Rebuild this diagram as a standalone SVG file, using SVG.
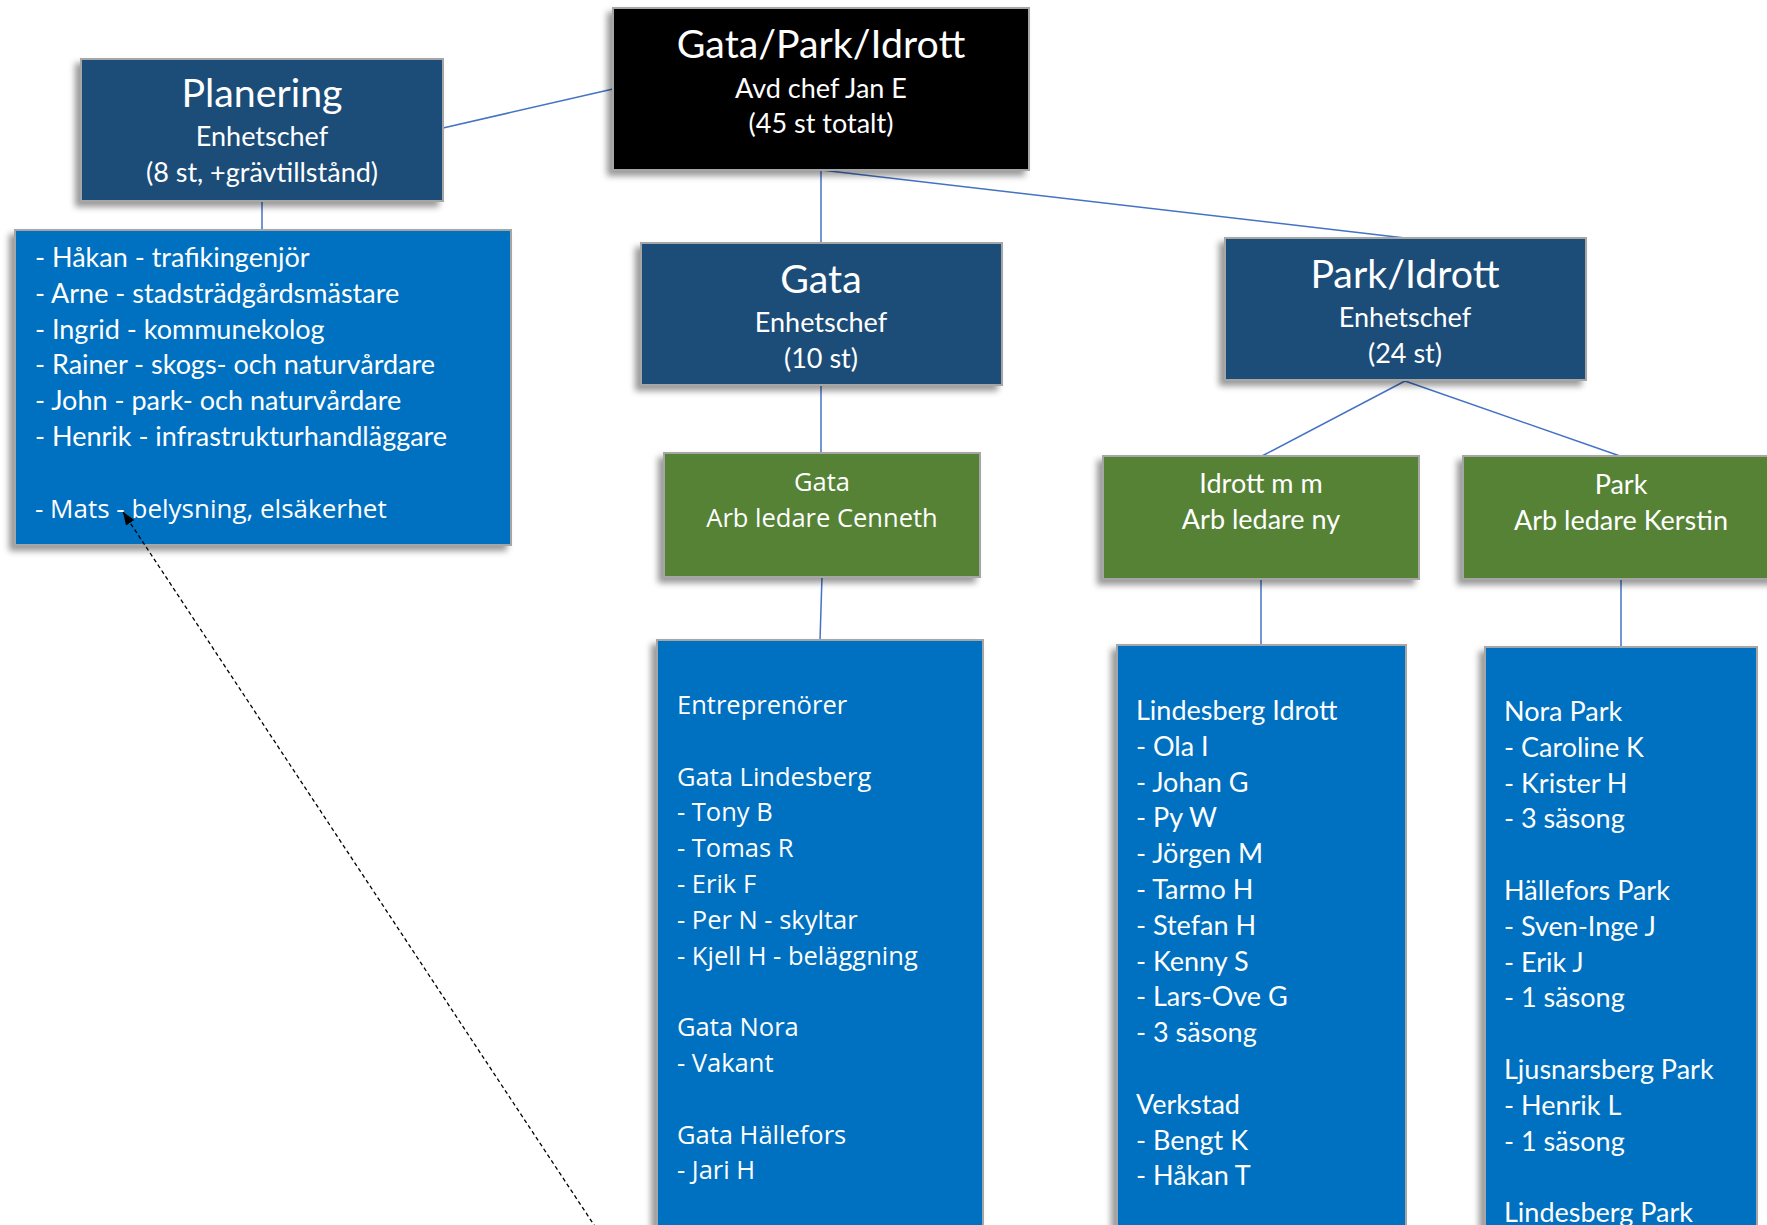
<svg xmlns="http://www.w3.org/2000/svg" width="1767" height="1225" viewBox="0 0 1767 1225">
<defs>
<filter id="sh" x="-10%" y="-10%" width="120%" height="120%">
<feDropShadow dx="-5" dy="5" stdDeviation="3" flood-color="#000" flood-opacity="0.4"/>
</filter>
<marker id="arr" markerWidth="13" markerHeight="10" refX="13" refY="5" orient="auto" markerUnits="userSpaceOnUse">
<path d="M0,0 L13,5 L0,10 z" fill="#000"/>
</marker>
</defs>
<style>
.box{stroke:#A6A6A6;stroke-width:2;filter:url(#sh)}
.blk{fill:#000}
.navy{fill:#1F4E79}
.grn{fill:#548235}
.lst{fill:#0070C0}
text{fill:#fff}
.c{font-family:Lato,'Liberation Sans',sans-serif;font-size:27px}
.s{font-family:'Open Sans','Liberation Sans',sans-serif;font-size:25.5px}
.t{font-family:Lato,'Liberation Sans',sans-serif;font-size:39.3px}
.m{text-anchor:middle}
.con line{stroke:#4472C4;stroke-width:1.5}
</style>

<g id="connectors" class="con">
<line x1="613" y1="89" x2="443" y2="128"/>
<line x1="262" y1="201" x2="262" y2="230"/>
<line x1="821" y1="170" x2="821" y2="243"/>
<line x1="821" y1="170" x2="1405" y2="238"/>
<line x1="821" y1="385" x2="821" y2="453"/>
<line x1="822" y1="577" x2="820" y2="640"/>
<line x1="1405" y1="381" x2="1262" y2="456"/>
<line x1="1405" y1="381" x2="1620" y2="456"/>
<line x1="1261" y1="579" x2="1261" y2="645"/>
<line x1="1621" y1="579" x2="1621" y2="647"/>
</g>

<g id="node-gpi">
<rect class="box blk" x="613" y="8" width="416" height="162"/>
<text class="t m" x="821" y="58">Gata/Park/Idrott</text>
<text class="c m" x="821" y="98">Avd chef Jan E</text>
<text class="c m" x="821" y="133">(45 st totalt)</text>
</g>

<g id="node-planering">
<rect class="box navy" x="81" y="59" width="362" height="142"/>
<text class="t m" x="262" y="107">Planering</text>
<text class="c m" x="262" y="146">Enhetschef</text>
<text class="c m" x="262" y="182">(8 st, +grävtillstånd)</text>
</g>

<g id="node-planering-list">
<rect class="box lst" x="15" y="230" width="496" height="315"/>
<text class="c" x="35" y="267">- Håkan - trafikingenjör<tspan x="35" dy="35.8">- Arne - stadsträdgårdsmästare</tspan><tspan x="35" dy="35.8">- Ingrid - kommunekolog</tspan><tspan x="35" dy="35.8">- Rainer - skogs- och naturvårdare</tspan><tspan x="35" dy="35.8">- John - park- och naturvårdare</tspan><tspan x="35" dy="35.8">- Henrik - infrastrukturhandläggare</tspan></text>
<text class="s" x="35" y="518" style="font-size:26px">- Mats - belysning, elsäkerhet</text>
</g>

<g id="node-gata">
<rect class="box navy" x="641" y="243" width="361" height="142"/>
<text class="t m" x="821" y="293">Gata</text>
<text class="c m" x="821" y="332">Enhetschef</text>
<text class="c m" x="821" y="368">(10 st)</text>
</g>

<g id="node-parkidrott">
<rect class="box navy" x="1225" y="238" width="361" height="142"/>
<text class="t m" x="1405" y="288">Park/Idrott</text>
<text class="c m" x="1405" y="327">Enhetschef</text>
<text class="c m" x="1405" y="363">(24 st)</text>
</g>

<g id="node-gata-arb">
<rect class="box grn" x="664" y="453" width="316" height="124"/>
<text class="s m" x="822" y="491">Gata</text>
<text class="s m" x="822" y="527">Arb ledare Cenneth</text>
</g>

<g id="node-idrott-arb">
<rect class="box grn" x="1103" y="456" width="316" height="123"/>
<text class="c m" x="1261" y="493">Idrott m m</text>
<text class="c m" x="1261" y="529">Arb ledare ny</text>
</g>

<g id="node-park-arb">
<rect class="box grn" x="1463" y="456" width="316" height="123"/>
<text class="c m" x="1621" y="494">Park</text>
<text class="c m" x="1621" y="530">Arb ledare Kerstin</text>
</g>

<g id="node-gata-list">
<rect class="box lst" x="657" y="640" width="326" height="600"/>
<text class="s" x="677" y="714">Entreprenörer<tspan x="677" dy="71.6">Gata Lindesberg</tspan><tspan x="677" dy="35.8">- Tony B</tspan><tspan x="677" dy="35.8">- Tomas R</tspan><tspan x="677" dy="35.8">- Erik F</tspan><tspan x="677" dy="35.8">- Per N - skyltar</tspan><tspan x="677" dy="35.8">- Kjell H - beläggning</tspan><tspan x="677" dy="71.6">Gata Nora</tspan><tspan x="677" dy="35.8">- Vakant</tspan><tspan x="677" dy="71.6">Gata Hällefors</tspan><tspan x="677" dy="35.8">- Jari H</tspan></text>
</g>

<g id="node-idrott-list">
<rect class="box lst" x="1117" y="645" width="289" height="600"/>
<text class="c" x="1136" y="720">Lindesberg Idrott<tspan x="1136" dy="35.8">- Ola I</tspan><tspan x="1136" dy="35.8">- Johan G</tspan><tspan x="1136" dy="35.8">- Py W</tspan><tspan x="1136" dy="35.8">- Jörgen M</tspan><tspan x="1136" dy="35.8">- Tarmo H</tspan><tspan x="1136" dy="35.8">- Stefan H</tspan><tspan x="1136" dy="35.8">- Kenny S</tspan><tspan x="1136" dy="35.8">- Lars-Ove G</tspan><tspan x="1136" dy="35.8">- 3 säsong</tspan><tspan x="1136" dy="71.6">Verkstad</tspan><tspan x="1136" dy="35.8">- Bengt K</tspan><tspan x="1136" dy="35.8">- Håkan T</tspan></text>
</g>

<g id="node-park-list">
<rect class="box lst" x="1485" y="647" width="272" height="600"/>
<text class="c" x="1504" y="721">Nora Park<tspan x="1504" dy="35.8">- Caroline K</tspan><tspan x="1504" dy="35.8">- Krister H</tspan><tspan x="1504" dy="35.8">- 3 säsong</tspan><tspan x="1504" dy="71.6">Hällefors Park</tspan><tspan x="1504" dy="35.8">- Sven-Inge J</tspan><tspan x="1504" dy="35.8">- Erik J</tspan><tspan x="1504" dy="35.8">- 1 säsong</tspan><tspan x="1504" dy="71.6">Ljusnarsberg Park</tspan><tspan x="1504" dy="35.8">- Henrik L</tspan><tspan x="1504" dy="35.8">- 1 säsong</tspan><tspan x="1504" dy="71.6">Lindesberg Park</tspan></text>
</g>

<g id="dashed-arrow">
<line x1="596" y1="1228" x2="123" y2="512" stroke="#000" stroke-width="1.3" stroke-dasharray="4 3" marker-end="url(#arr)"/>
</g>
</svg>
